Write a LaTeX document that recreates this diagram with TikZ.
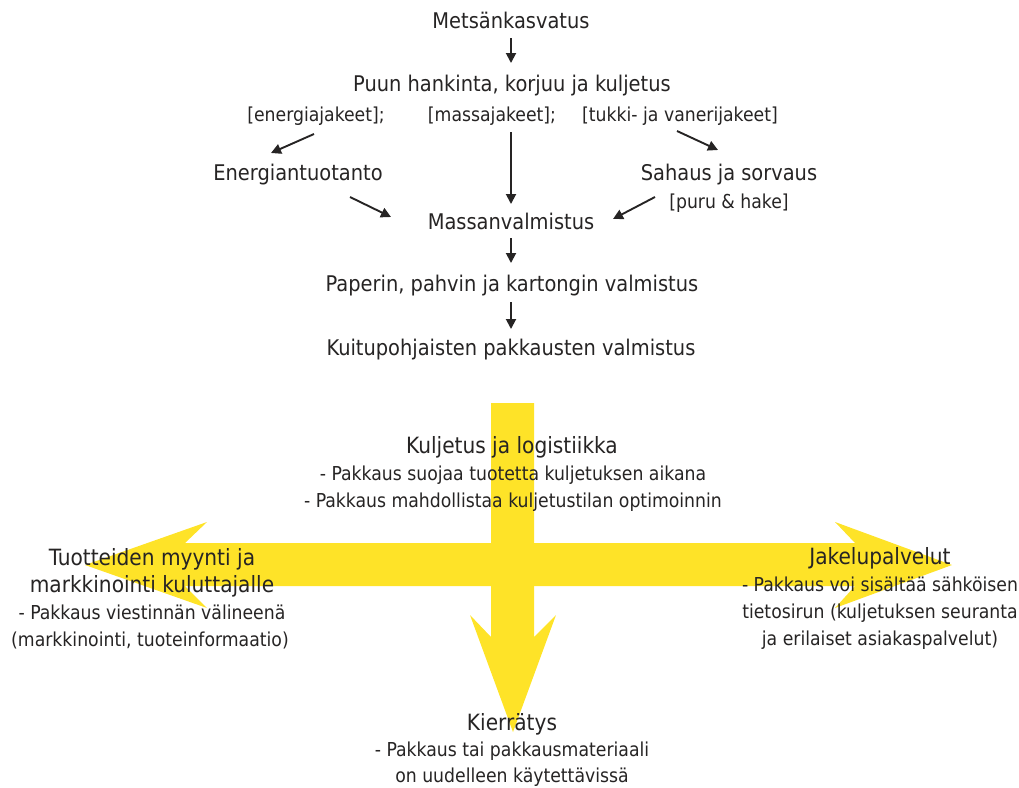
\documentclass[tikz,border=0pt]{standalone}
\usepackage{fontspec}
\setmainfont{DejaVu Sans Condensed}
\usetikzlibrary{arrows.meta}
\definecolor{arrowyellow}{RGB}{254,227,40}
\definecolor{ink}{RGB}{38,36,36}
\begin{document}
\begin{tikzpicture}[x=1pt,y=-1pt,
  title/.style={anchor=base,inner sep=0pt,text=ink,font=\fontsize{21.6}{24}\selectfont},
  bigtitle/.style={title,font=\fontsize{22.4}{25}\selectfont},
  sub/.style={anchor=base,inner sep=0pt,text=ink,font=\fontsize{19.2}{22}\selectfont},
  flow/.style={draw=ink,line width=1.9pt,-{Triangle[length=10pt,width=10pt]}}]
\useasboundingbox (0,0) rectangle (1019,787);

% yellow cross of arrows
\fill[arrowyellow] (491,403) -- (534,403) -- (534,637) -- (556,615) -- (513,732)
  -- (470,615) -- (491,637) -- cycle;
\fill[arrowyellow] (85,565) -- (207,522) -- (185,543) -- (855,543) -- (835,522)
  -- (952,565) -- (835,608) -- (855,586) -- (185,586) -- (207,608) -- cycle;

% production chain
\node[title] (met) at (511,28) {Metsänkasvatus};
\node[title] (puun) at (512,91) {Puun hankinta, korjuu ja kuljetus};
\node[sub] (ener) at (316,121) {[energiajakeet];};
\node[sub] (massa) at (492,121) {[massajakeet];};
\node[sub] (tukki) at (680,121) {[tukki- ja vanerijakeet]};
\node[title] (etuot) at (298,180) {Energiantuotanto};
\node[title] (sahaus) at (729,180) {Sahaus ja sorvaus};
\node[sub] (puru) at (729,208) {[puru \& hake]};
\node[title] (massan) at (511,229) {Massanvalmistus};
\node[title] (paperi) at (512,291) {Paperin, pahvin ja kartongin valmistus};
\node[title] (kuitu) at (511,355) {Kuitupohjaisten pakkausten valmistus};

% arrow end points
\coordinate (a1s) at (511,38);  \coordinate (a1e) at (511,63);
\coordinate (a2s) at (314,134); \coordinate (a2e) at (271,153);
\coordinate (a3s) at (511,132); \coordinate (a3e) at (511,204);
\coordinate (a4s) at (677,131); \coordinate (a4e) at (718,150);
\coordinate (a5s) at (350,197); \coordinate (a5e) at (391,217);
\coordinate (a6s) at (655,197); \coordinate (a6e) at (613,219);
\coordinate (a7s) at (511,238); \coordinate (a7e) at (511,263);
\coordinate (a8s) at (511,302); \coordinate (a8e) at (511,329);

\draw[flow] (a1s) -- (a1e);
\draw[flow] (a2s) -- (a2e);
\draw[flow] (a3s) -- (a3e);
\draw[flow] (a4s) -- (a4e);
\draw[flow] (a5s) -- (a5e);
\draw[flow] (a6s) -- (a6e);
\draw[flow] (a7s) -- (a7e);
\draw[flow] (a8s) -- (a8e);

% packaging roles
\node[bigtitle] (kulj) at (512,453) {Kuljetus ja logistiikka};
\node[sub] (kulj1) at (513,480) {- Pakkaus suojaa tuotetta kuljetuksen aikana};
\node[sub] (kulj2) at (513,507) {- Pakkaus mahdollistaa kuljetustilan optimoinnin};

\node[bigtitle] (myy1) at (152,565) {Tuotteiden myynti ja};
\node[bigtitle] (myy2) at (152,592) {markkinointi kuluttajalle};
\node[sub] (myy3) at (152,619) {- Pakkaus viestinnän välineenä};
\node[sub] (myy4) at (150,646) {(markkinointi, tuoteinformaatio)};

\node[bigtitle] (jak1) at (880,564) {Jakelupalvelut};
\node[sub] (jak2) at (880,591) {- Pakkaus voi sisältää sähköisen};
\node[sub] (jak3) at (880,618) {tietosirun (kuljetuksen seuranta};
\node[sub] (jak4) at (880,645) {ja erilaiset asiakaspalvelut)};

\node[bigtitle] (kier1) at (512,730) {Kierrätys};
\node[sub] (kier2) at (512,756) {- Pakkaus tai pakkausmateriaali};
\node[sub] (kier3) at (512,782) {on uudelleen käytettävissä};
\end{tikzpicture}
\end{document}
